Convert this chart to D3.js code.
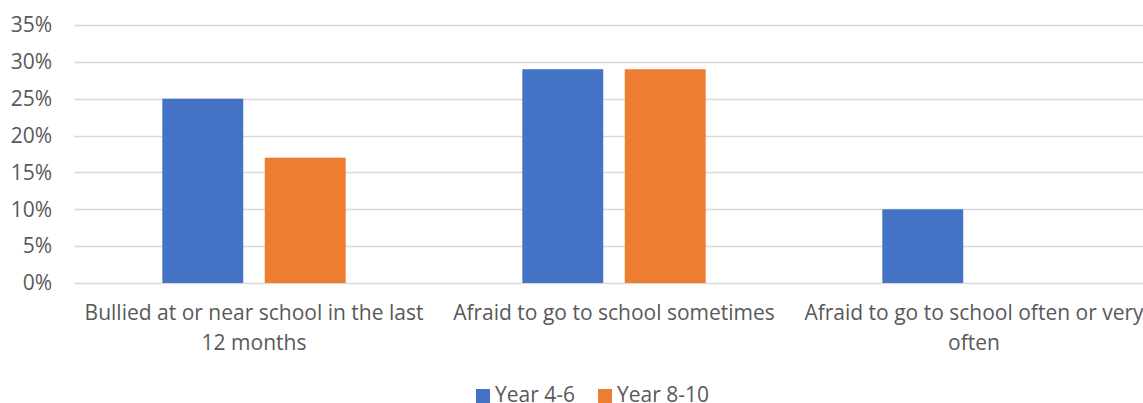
<!DOCTYPE html>
<html>
<head>
<meta charset="utf-8">
<script src="https://cdn.jsdelivr.net/npm/d3@7"></script>
<style>
  body { margin: 0; background: #fff; }
  svg { display: block; }
  text { font-family: "Open Sans", "Liberation Sans", sans-serif; fill: #595959; }
</style>
</head>
<body>
<div id="chart"></div>
<script>
var categories = ["bullied", "sometimes", "often"]
var categoryLines = [
    ["Bullied at or near school in the last", "12 months"],
    ["Afraid to go to school sometimes"],
    ["Afraid to go to school often or very", "often"]
]
var seriesNames = ["Year 4-6", "Year 8-10"]
var seriesColors = ["#4472c4", "#ed7d31"]
var year46 = [25, 29, 10]
var year810 = [17, 29, 0]
var yTicks = [0, 5, 10, 15, 20, 25, 30, 35]

function draw_chart() {
    var width = 1143
    var height = 403
    var left = 74, catWidth = 360
    var top = 25, bottom = 283

    var svg = d3.select("#chart").append("svg")
        .attr("width", width)
        .attr("height", height)

    var x0 = d3.scaleBand()
        .domain(categories)
        .range([left, left + catWidth * categories.length])

    var x1 = d3.scaleBand()
        .domain(seriesNames)
        .range([88.3, catWidth - 88.3])
        .paddingInner(0.21)

    var y = d3.scaleLinear().domain([0, 35]).range([bottom, top])

    // gridlines
    svg.append("g")
        .selectAll("line")
        .data(yTicks)
        .enter().append("line")
        .attr("x1", left)
        .attr("x2", x0.range()[1])
        .attr("y1", function(d) { return Math.round(y(d)) + 0.5 })
        .attr("y2", function(d) { return Math.round(y(d)) + 0.5 })
        .attr("stroke", "#d9d9d9")
        .attr("stroke-width", 1.3)

    // y labels
    svg.append("g")
        .selectAll("text")
        .data(yTicks)
        .enter().append("text")
        .attr("x", 52)
        .attr("y", function(d) { return y(d) })
        .attr("dy", "0.35em")
        .attr("text-anchor", "end")
        .style("font-size", "21px")
        .text(function(d) { return d + "%" })

    var rows = categories.map(function(c, i) {
        return { cat: c, values: [year46[i], year810[i]] }
    })

    var groups = svg.append("g")
        .selectAll("g")
        .data(rows)
        .enter().append("g")
        .attr("transform", function(d) { return "translate(" + x0(d.cat) + ",0)" })

    groups.selectAll("rect")
        .data(function(d) {
            return d.values.map(function(v, j) { return { name: seriesNames[j], value: v, color: seriesColors[j] } })
        })
        .enter().append("rect")
        .filter(function(d) { return d.value > 0 })
        .attr("x", function(d) { return x1(d.name) })
        .attr("width", x1.bandwidth())
        .attr("y", function(d) { return y(d.value) })
        .attr("height", function(d) { return y(0) - y(d.value) })
        .attr("fill", function(d) { return d.color })

    // category labels
    groups.each(function(d, i) {
        var t = d3.select(this).append("text")
            .attr("text-anchor", "middle")
            .style("font-size", "21px")
        categoryLines[i].forEach(function(line, k) {
            t.append("tspan")
                .attr("x", catWidth / 2)
                .attr("y", 320 + k * 29.5)
                .text(line)
        })
    })

    // legend
    var legend = svg.append("g")
    var legendX = [476, 598]
    seriesNames.forEach(function(name, j) {
        legend.append("rect")
            .attr("x", legendX[j])
            .attr("y", 389)
            .attr("width", 14)
            .attr("height", 14)
            .attr("fill", seriesColors[j])
        legend.append("text")
            .attr("x", legendX[j] + 19)
            .attr("y", 402)
            .style("font-size", "21px")
            .text(name)
    })
}

draw_chart()
</script>
</body>
</html>
